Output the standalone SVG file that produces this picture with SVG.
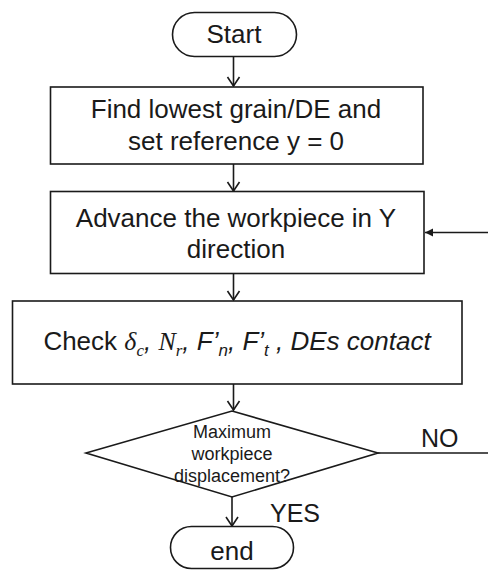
<svg xmlns="http://www.w3.org/2000/svg" width="488" height="570" viewBox="0 0 488 570">
<style>
.shape{fill:#fff;stroke:#1a1a1a;stroke-width:1.6}
.t{font-family:"Liberation Sans",Arial,sans-serif;font-size:26px;fill:#1a1a1a;text-anchor:middle}
.s{font-family:"Liberation Sans",Arial,sans-serif;font-size:18px;fill:#1a1a1a;text-anchor:middle}
.lbl{font-family:"Liberation Sans",Arial,sans-serif;font-size:25px;fill:#1a1a1a}
.conn{fill:none;stroke:#1a1a1a;stroke-width:1.6}
.it{font-style:italic}
.ser{font-family:"Liberation Serif","Times New Roman",serif;font-style:italic}
</style>
<defs>
<marker id="open" markerUnits="userSpaceOnUse" markerWidth="16" markerHeight="16" viewBox="-12 -8 16 16" refX="0" refY="0" orient="auto">
<path d="M-9,-6 L0,0 L-9,6" fill="none" stroke="#1a1a1a" stroke-width="1.6"/>
</marker>
<marker id="solid" markerUnits="userSpaceOnUse" markerWidth="12" markerHeight="12" viewBox="-10 -6 12 12" refX="0" refY="0" orient="auto">
<path d="M-8,-4 L0,0 L-8,4 Z" fill="#1a1a1a"/>
</marker>
</defs>
<g id="connectors">
<line class="conn" x1="233.5" y1="57" x2="233.5" y2="86" marker-end="url(#open)"/>
<line class="conn" x1="233.5" y1="164" x2="233.5" y2="191" marker-end="url(#open)"/>
<line class="conn" x1="233.5" y1="273" x2="233.5" y2="300" marker-end="url(#open)"/>
<line class="conn" x1="233.5" y1="384" x2="233.5" y2="410" marker-end="url(#open)"/>
<line class="conn" x1="232" y1="497" x2="232" y2="526" marker-end="url(#open)"/>
<path class="conn" d="M378,453 H491 V232.5 H425" marker-end="url(#solid)"/>
<text class="lbl" x="421" y="447">NO</text>
<text class="lbl" x="270" y="522">YES</text>
</g>
<g id="start">
<rect class="shape" x="172.5" y="12.5" width="124" height="44" rx="22" ry="22"/>
<text class="t" x="234" y="43">Start</text>
</g>
<g id="find">
<rect class="shape" x="50.5" y="87" width="372.5" height="77"/>
<text class="t" x="236" y="118">Find lowest grain/DE and</text>
<text class="t" x="236" y="150">set reference y = 0</text>
</g>
<g id="advance">
<rect class="shape" x="50.5" y="191.5" width="373.5" height="82"/>
<text class="t" x="236" y="227">Advance the workpiece in Y</text>
<text class="t" x="236" y="258">direction</text>
</g>
<g id="check">
<rect class="shape" x="12.5" y="301" width="449.5" height="83"/>
<text class="t" x="237" y="350" font-size="26.5">Check <tspan class="ser">δ</tspan><tspan class="ser" font-size="17" dy="6">c</tspan><tspan class="it" dy="-6">, </tspan><tspan class="ser">N</tspan><tspan class="ser" font-size="17" dy="6">r</tspan><tspan class="it" dy="-6">, F’</tspan><tspan class="it" font-size="17" dy="6">n</tspan><tspan class="it" dy="-6">, F’</tspan><tspan class="it" font-size="17" dy="6">t</tspan><tspan class="it" dy="-6"> , DEs contact</tspan></text>
</g>
<g id="decision">
<polygon class="shape" points="232,411 378,453 232,497 86,453"/>
<text class="s" x="232" y="438">Maximum</text>
<text class="s" x="232" y="460">workpiece</text>
<text class="s" x="232" y="482">displacement?</text>
</g>
<g id="end">
<rect class="shape" x="170.5" y="526.5" width="123" height="42" rx="21" ry="21"/>
<text class="t" x="232" y="560" font-size="25">end</text>
</g>
</svg>
